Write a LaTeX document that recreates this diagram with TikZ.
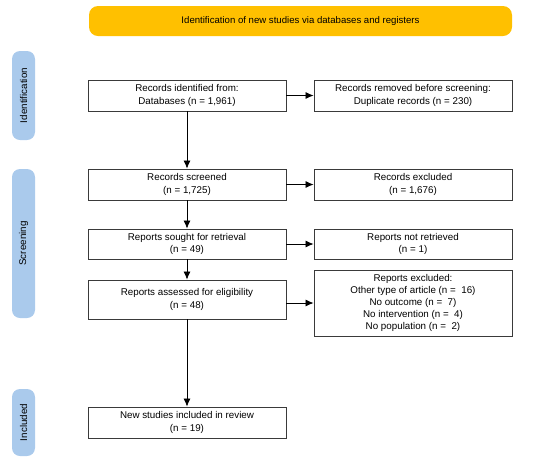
\documentclass[tikz,border=0pt]{standalone}
\usepackage{fontspec}
\setmainfont{Liberation Sans}
\usetikzlibrary{arrows.meta}
\definecolor{banner}{HTML}{FFC000}
\definecolor{phase}{HTML}{AACAEC}
\definecolor{edge}{HTML}{3A3A3A}
\tikzset{
  flowbox/.style={draw=edge, line width=0.9pt, fill=white, minimum width=198pt, align=center, inner sep=1pt, font=\fontsize{9.8}{12.2}\selectfont},
  phasebox/.style={fill=phase, rounded corners=8pt, minimum width=23pt, rotate=90, font=\fontsize{9.8}{11}\selectfont},
  flow/.style={-{Latex[length=8pt,width=7pt]}, line width=0.8pt, draw=black},
}
\begin{document}
\begin{tikzpicture}[x=1pt,y=-1pt]
\useasboundingbox (0,0) rectangle (550,459);
\node[fill=banner, rounded corners=9pt, minimum width=423pt, minimum height=30pt, font=\fontsize{9.6}{11}\selectfont] (head) at (300.5,21) {Identification of new studies via databases and registers};
\node[phasebox, minimum width=89pt, minimum height=23pt] (pid) at (23.5,95.5) {Identification};
\node[phasebox, minimum width=149pt, minimum height=23pt] (psc) at (23.5,243.5) {Screening};
\node[phasebox, minimum width=67pt, minimum height=23pt] (pin) at (23.5,422.5) {Included};
\node[flowbox, minimum height=31pt] (ident) at (187,95.5) {Records identified from:\\Databases (n = 1,961)};
\node[flowbox, minimum height=31pt] (dup) at (413,95.5) {Records removed before screening:\\Duplicate records (n = 230)};
\node[flowbox, minimum height=31pt] (scr) at (187,184.5) {Records screened\\(n = 1,725)};
\node[flowbox, minimum height=31pt] (exc) at (413,184.5) {Records excluded\\(n = 1,676)};
\node[flowbox, minimum height=30pt] (sought) at (187,244) {Reports sought for retrieval\\(n = 49)};
\node[flowbox, minimum height=30pt] (notret) at (413,244) {Reports not retrieved\\(n = 1)};
\node[flowbox, minimum height=39pt] (assess) at (187,299.5) {Reports assessed for eligibility\\(n = 48)};
\node[flowbox, minimum height=66pt] (repexc) at (413,303) {Reports excluded:\\Other type of article (n =\ \ 16)\\No outcome (n =\ \ 7)\\No intervention (n =\ \ 4)\\No population (n =\ \ 2)};
\node[flowbox, minimum height=31pt] (incl) at (187,422.5) {New studies included in review\\(n = 19)};
\draw[flow] (ident) -- (dup);
\draw[flow] (ident) -- (scr);
\draw[flow] (scr) -- (exc);
\draw[flow] (scr) -- (sought);
\draw[flow] (sought) -- (notret);
\draw[flow] (sought) -- (assess);
\draw[flow] (assess.east |- repexc.west) -- (repexc.west);
\draw[flow] (assess) -- (incl);
\end{tikzpicture}
\end{document}
